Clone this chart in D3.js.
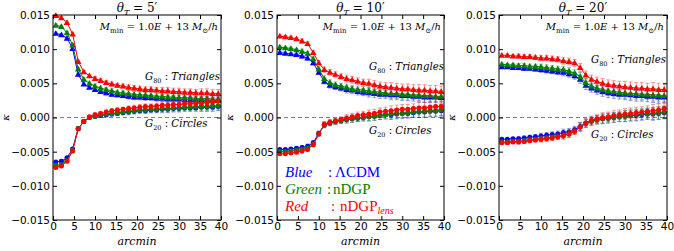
<!DOCTYPE html>
<html>
<head>
<meta charset="utf-8">
<script src="https://cdn.jsdelivr.net/npm/d3@7"></script>
<style>
  body { margin: 0; background: #fff; }
  svg { display: block; }
  .tick text { font-family: "DejaVu Sans", sans-serif; font-size: 10.5px; fill: #000; }
  .math { font-family: "DejaVu Serif", serif; }
  .legend { font-family: "Liberation Serif", serif; }
</style>
</head>
<body>
<div id="chart"></div>
<script>
// bin centres, arcmin
var arcmin = [0.67, 2, 3.33, 4.67, 6, 7.33, 8.67, 10, 11.33, 12.67, 14, 15.33, 16.67, 18, 19.33,
              20.67, 22, 23.33, 24.67, 26, 27.33, 28.67, 30, 31.33, 32.67, 34, 35.33, 36.67, 38, 39.33];

var xTicks = [0, 5, 10, 15, 20, 25, 30, 35, 40];
var yTicks = [-0.015, -0.010, -0.005, 0, 0.005, 0.010, 0.015];
var thetaLabels = ["5", "10", "20"];

// theta_T = 5'
var tri5_lcdm = [0.0123,0.0121,0.0116,0.0101,0.0063,0.0049,0.0044,0.0041,0.0038,0.0036,0.0034,0.0033,0.0032,0.0031,0.0030,0.0030,0.0029,0.0029,0.0028,0.0028,0.0027,0.0027,0.0027,0.0026,0.0026,0.0026,0.0025,0.0025,0.0025,0.0025];
var tri5_ndgp = [0.0135,0.0133,0.0124,0.0106,0.0071,0.0056,0.0050,0.0046,0.0043,0.0041,0.0039,0.0037,0.0036,0.0035,0.0034,0.0033,0.0033,0.0032,0.0031,0.0031,0.0030,0.0030,0.0029,0.0029,0.0029,0.0028,0.0028,0.0028,0.0027,0.0027];
var tri5_lens = [0.0149,0.0146,0.0139,0.0122,0.0082,0.0067,0.0061,0.0057,0.0054,0.0051,0.0049,0.0047,0.0046,0.0044,0.0043,0.0042,0.0041,0.0041,0.0040,0.0039,0.0039,0.0038,0.0038,0.0037,0.0037,0.0036,0.0036,0.0036,0.0035,0.0035];
var cir5_lcdm = [-0.0065,-0.0064,-0.0059,-0.0046,-0.0016,-0.0006,0.0000,0.0002,0.0003,0.0004,0.0005,0.0006,0.0007,0.0008,0.0009,0.0010,0.0010,0.0011,0.0011,0.0012,0.0012,0.0013,0.0013,0.0014,0.0014,0.0014,0.0015,0.0015,0.0015,0.0016];
var cir5_ndgp = [-0.0070,-0.0069,-0.0063,-0.0048,-0.0016,-0.0006,0.0000,0.0002,0.0004,0.0005,0.0006,0.0007,0.0008,0.0009,0.0010,0.0011,0.0011,0.0012,0.0012,0.0013,0.0013,0.0014,0.0014,0.0015,0.0015,0.0016,0.0016,0.0016,0.0017,0.0017];
var cir5_lens = [-0.0073,-0.0071,-0.0064,-0.0049,-0.0017,-0.0006,0.0001,0.0004,0.0006,0.0008,0.0010,0.0011,0.0012,0.0013,0.0014,0.0015,0.0016,0.0016,0.0017,0.0018,0.0018,0.0019,0.0019,0.0020,0.0020,0.0021,0.0021,0.0022,0.0023,0.0024];
var err5 = [0.0002,0.0002,0.0002,0.0002,0.0002,0.0002,0.0002,0.0003,0.0003,0.0003,0.0003,0.0003,0.0003,0.0004,0.0004,0.0004,0.0004,0.0004,0.0004,0.0005,0.0005,0.0005,0.0005,0.0005,0.0005,0.0005,0.0006,0.0006,0.0006,0.0006];

// theta_T = 10'
var tri10_lcdm = [0.0095,0.0094,0.0093,0.0092,0.0090,0.0087,0.0080,0.0066,0.0053,0.0047,0.0045,0.0043,0.0041,0.0040,0.0038,0.0037,0.0036,0.0035,0.0034,0.0034,0.0033,0.0033,0.0032,0.0032,0.0031,0.0031,0.0030,0.0030,0.0030,0.0029];
var tri10_ndgp = [0.0103,0.0102,0.0101,0.0099,0.0097,0.0094,0.0086,0.0071,0.0057,0.0051,0.0048,0.0046,0.0044,0.0042,0.0041,0.0040,0.0039,0.0038,0.0037,0.0036,0.0035,0.0035,0.0034,0.0034,0.0033,0.0033,0.0032,0.0032,0.0031,0.0031];
var tri10_lens = [0.0119,0.0118,0.0117,0.0115,0.0112,0.0108,0.0095,0.0080,0.0070,0.0066,0.0063,0.0060,0.0057,0.0055,0.0053,0.0051,0.0050,0.0048,0.0046,0.0045,0.0044,0.0043,0.0042,0.0042,0.0041,0.0040,0.0040,0.0039,0.0039,0.0038];
var cir10_lcdm = [-0.0047,-0.0047,-0.0046,-0.0045,-0.0044,-0.0042,-0.0037,-0.0023,-0.0011,-0.0008,-0.0006,-0.0004,-0.0003,-0.0002,-0.0001,0.0000,0.0001,0.0002,0.0003,0.0004,0.0004,0.0005,0.0006,0.0006,0.0007,0.0008,0.0008,0.0009,0.0009,0.0010];
var cir10_ndgp = [-0.0050,-0.0050,-0.0049,-0.0048,-0.0047,-0.0045,-0.0039,-0.0024,-0.0011,-0.0008,-0.0006,-0.0005,-0.0003,-0.0002,-0.0001,0.0000,0.0001,0.0002,0.0003,0.0004,0.0005,0.0006,0.0006,0.0007,0.0008,0.0008,0.0009,0.0010,0.0010,0.0011];
var cir10_lens = [-0.0053,-0.0053,-0.0052,-0.0051,-0.0049,-0.0047,-0.0040,-0.0024,-0.0010,-0.0007,-0.0005,-0.0003,-0.0001,0.0001,0.0003,0.0004,0.0005,0.0006,0.0008,0.0009,0.0010,0.0011,0.0012,0.0012,0.0013,0.0014,0.0014,0.0015,0.0016,0.0016];
var err10 = [0.0002,0.0002,0.0002,0.0002,0.0003,0.0003,0.0003,0.0003,0.0004,0.0004,0.0004,0.0004,0.0005,0.0005,0.0005,0.0005,0.0006,0.0006,0.0006,0.0006,0.0007,0.0007,0.0007,0.0007,0.0007,0.0008,0.0008,0.0008,0.0008,0.0008];

// theta_T = 20'
var tri20_lcdm = [0.0074,0.0074,0.0073,0.0073,0.0072,0.0072,0.0071,0.0070,0.0069,0.0068,0.0067,0.0066,0.0064,0.0061,0.0056,0.0047,0.0043,0.0040,0.0038,0.0036,0.0035,0.0034,0.0034,0.0033,0.0032,0.0032,0.0031,0.0031,0.0030,0.0030];
var tri20_ndgp = [0.0078,0.0077,0.0077,0.0076,0.0076,0.0075,0.0075,0.0074,0.0073,0.0072,0.0071,0.0070,0.0068,0.0065,0.0060,0.0051,0.0046,0.0043,0.0041,0.0039,0.0038,0.0037,0.0036,0.0035,0.0035,0.0034,0.0034,0.0033,0.0033,0.0032];
var tri20_lens = [0.0091,0.0091,0.0090,0.0090,0.0089,0.0089,0.0088,0.0087,0.0087,0.0086,0.0085,0.0083,0.0082,0.0080,0.0073,0.0062,0.0056,0.0053,0.0050,0.0048,0.0047,0.0046,0.0045,0.0044,0.0043,0.0043,0.0042,0.0042,0.0041,0.0041];
var cir20_lcdm = [-0.0032,-0.0032,-0.0031,-0.0031,-0.0030,-0.0029,-0.0028,-0.0027,-0.0026,-0.0025,-0.0024,-0.0022,-0.0021,-0.0018,-0.0013,-0.0008,-0.0005,-0.0003,-0.0002,-0.0001,0.0000,0.0001,0.0002,0.0003,0.0003,0.0004,0.0005,0.0005,0.0006,0.0007];
var cir20_ndgp = [-0.0036,-0.0036,-0.0035,-0.0035,-0.0034,-0.0033,-0.0032,-0.0031,-0.0030,-0.0029,-0.0028,-0.0026,-0.0024,-0.0020,-0.0014,-0.0009,-0.0006,-0.0004,-0.0002,-0.0001,0.0000,0.0001,0.0002,0.0003,0.0004,0.0005,0.0006,0.0006,0.0007,0.0008];
var cir20_lens = [-0.0037,-0.0037,-0.0036,-0.0036,-0.0035,-0.0034,-0.0033,-0.0032,-0.0031,-0.0030,-0.0028,-0.0027,-0.0024,-0.0020,-0.0014,-0.0008,-0.0004,-0.0002,0.0000,0.0001,0.0003,0.0004,0.0005,0.0006,0.0007,0.0008,0.0009,0.0010,0.0011,0.0013];
var err20 = [0.0002,0.0002,0.0002,0.0003,0.0003,0.0003,0.0003,0.0004,0.0004,0.0004,0.0004,0.0005,0.0005,0.0005,0.0006,0.0006,0.0006,0.0006,0.0007,0.0007,0.0007,0.0007,0.0008,0.0008,0.0008,0.0008,0.0008,0.0009,0.0009,0.0009];

var colors = ["#0000ff", "#008000", "#ff0000"];   // LCDM, nDGP, nDGP_lens

var panels = [
    { theta: thetaLabels[0], left: 53,  right: 221, err: err5,
      tri: [tri5_lcdm, tri5_ndgp, tri5_lens], cir: [cir5_lcdm, cir5_ndgp, cir5_lens], g80y: 80, g20y: 127 },
    { theta: thetaLabels[1], left: 277, right: 444, err: err10,
      tri: [tri10_lcdm, tri10_ndgp, tri10_lens], cir: [cir10_lcdm, cir10_ndgp, cir10_lens], g80y: 70, g20y: 134 },
    { theta: thetaLabels[2], left: 499, right: 667, err: err20,
      tri: [tri20_lcdm, tri20_ndgp, tri20_lens], cir: [cir20_lcdm, cir20_ndgp, cir20_lens], g80y: 63, g20y: 138 }
];

var W = 674, H = 251, axTop = 15, axBottom = 220;

var svg = d3.select("#chart").append("svg").attr("width", W).attr("height", H);

var y = d3.scaleLinear().domain([-0.015, 0.015]).range([axBottom, axTop]);
var triangle = d3.symbol().type(d3.symbolTriangle).size(19);

panels.forEach(function (p) {
    var x = d3.scaleLinear().domain([0, 40]).range([p.left, p.right]);
    var g = svg.append("g");

    // zero line
    g.append("line")
        .attr("x1", p.left).attr("x2", p.right)
        .attr("y1", y(0)).attr("y2", y(0))
        .attr("stroke", "#808080").attr("stroke-width", 1).attr("stroke-dasharray", "4,3");

    function series(vals, col, isTri) {
        var s = g.append("g");
        var pts = arcmin.map(function (a, i) { return { x: a, v: vals[i], e: p.err[i] }; });
        // error bars
        s.selectAll(null).data(pts).enter().append("line")
            .attr("x1", function (d) { return x(d.x); }).attr("x2", function (d) { return x(d.x); })
            .attr("y1", function (d) { return y(d.v - d.e); }).attr("y2", function (d) { return y(d.v + d.e); })
            .attr("stroke", col).attr("stroke-opacity", 0.4).attr("stroke-width", 1);
        [-1, 1].forEach(function (sgn) {
            s.selectAll(null).data(pts).enter().append("line")
                .attr("x1", function (d) { return x(d.x) - 2; }).attr("x2", function (d) { return x(d.x) + 2; })
                .attr("y1", function (d) { return y(d.v + sgn * d.e); }).attr("y2", function (d) { return y(d.v + sgn * d.e); })
                .attr("stroke", col).attr("stroke-opacity", 0.4).attr("stroke-width", 1);
        });
        s.append("path").datum(pts)
            .attr("d", d3.line().x(function (d) { return x(d.x); }).y(function (d) { return y(d.v); }))
            .attr("fill", "none").attr("stroke", col).attr("stroke-width", 1);
        if (isTri) {
            s.selectAll(null).data(pts).enter().append("path")
                .attr("d", triangle)
                .attr("transform", function (d) { return "translate(" + x(d.x) + "," + (y(d.v) + 0.5) + ")"; })
                .attr("fill", col);
        } else {
            s.selectAll(null).data(pts).enter().append("circle")
                .attr("cx", function (d) { return x(d.x); }).attr("cy", function (d) { return y(d.v); })
                .attr("r", 2.5).attr("fill", col);
        }
    }
    for (var k = 0; k < 3; k++) {
        series(p.cir[k], colors[k], false);
        series(p.tri[k], colors[k], true);
    }

    // axes, ticks pointing in on all four sides
    g.append("g").attr("transform", "translate(0," + axBottom + ")")
        .call(d3.axisBottom(x).tickValues(xTicks).tickSizeInner(-4).tickSizeOuter(0).tickPadding(3));
    g.append("g").attr("transform", "translate(0," + axTop + ")")
        .call(d3.axisTop(x).tickValues(xTicks).tickSizeInner(-4).tickSizeOuter(0).tickFormat(""));
    g.append("g").attr("transform", "translate(" + p.left + ",0)")
        .call(d3.axisLeft(y).tickValues(yTicks).tickSizeInner(-4).tickSizeOuter(0).tickPadding(3).tickFormat(d3.format(".3f")));
    g.append("g").attr("transform", "translate(" + p.right + ",0)")
        .call(d3.axisRight(y).tickValues(yTicks).tickSizeInner(-4).tickSizeOuter(0).tickFormat(""));
    g.selectAll(".domain").remove();
    g.selectAll(".tick line").attr("stroke", "#000");
    g.append("rect")
        .attr("x", p.left).attr("y", axTop).attr("width", p.right - p.left).attr("height", axBottom - axTop)
        .attr("fill", "none").attr("stroke", "#000").attr("stroke-width", 1);

    var cx = (p.left + p.right) / 2;

    // title
    var t = g.append("text").attr("class", "math").attr("x", cx).attr("y", 12)
        .attr("text-anchor", "middle").attr("font-size", 12);
    t.append("tspan").attr("font-style", "italic").text("θ");
    t.append("tspan").attr("font-style", "italic").attr("font-size", 8).attr("dy", 2.5).text("T");
    t.append("tspan").attr("dy", -2.5).text(" = " + p.theta + "′");

    // M_min
    var m = g.append("text").attr("class", "math").attr("x", p.right - 3).attr("y", 30)
        .attr("text-anchor", "end").attr("font-size", 10);
    m.append("tspan").attr("font-style", "italic").text("M");
    m.append("tspan").attr("font-size", 7).attr("dy", 2.5).text("min");
    m.append("tspan").attr("dy", -2.5).text(" = 1.0");
    m.append("tspan").attr("font-style", "italic").text("E");
    m.append("tspan").text(" + 13 ");
    m.append("tspan").attr("font-style", "italic").text("M");
    m.append("tspan").attr("font-size", 7).attr("dy", 2.5).text("⊙");
    m.append("tspan").attr("dy", -2.5).text("/");
    m.append("tspan").attr("font-style", "italic").text("h");

    function gLabel(num, word, yy) {
        var l = g.append("text").attr("class", "math").attr("x", p.left + 92).attr("y", yy)
            .attr("font-size", 10.2).attr("font-style", "italic");
        l.append("tspan").text("G");
        l.append("tspan").attr("font-size", 6.5).attr("font-style", "normal").attr("dy", 2.5).text(num);
        l.append("tspan").attr("dy", -2.5).attr("font-style", "normal").text(" : ");
        l.append("tspan").text(word);
    }
    gLabel("80", "Triangles", p.g80y);
    gLabel("20", "Circles", p.g20y);

    // x label
    g.append("text").attr("class", "math").attr("x", cx).attr("y", 245)
        .attr("text-anchor", "middle").attr("font-size", 11).attr("font-style", "italic").text("arcmin");

    // y label
    g.append("text").attr("class", "math")
        .attr("transform", "translate(" + (p.left - 44) + "," + y(0) + ") rotate(-90)")
        .attr("text-anchor", "middle").attr("font-size", 10).attr("font-style", "italic").text("κ");
});

// legend, middle panel
var leg = [
    { name: "Blue",  col: colors[0], colonX: 328, labX: 335, label: "ΛCDM", sub: "", yy: 177 },
    { name: "Green", col: colors[1], colonX: 327, labX: 333, label: "nDGP", sub: "", yy: 194 },
    { name: "Red",   col: colors[2], colonX: 331, labX: 340, label: "nDGP", sub: "lens", yy: 211 }
];
leg.forEach(function (d) {
    svg.append("text").attr("class", "legend").attr("x", 285).attr("y", d.yy)
        .attr("font-size", 15).attr("font-style", "italic").attr("fill", d.col).text(d.name);
    svg.append("text").attr("class", "legend").attr("x", d.colonX).attr("y", d.yy)
        .attr("font-size", 15).attr("fill", d.col).text(":");
    var l = svg.append("text").attr("class", "legend").attr("x", d.labX).attr("y", d.yy)
        .attr("font-size", 15).attr("fill", d.col);
    l.append("tspan").text(d.label);
    if (d.sub) l.append("tspan").attr("font-size", 10).attr("font-style", "italic").attr("dy", 3).text(d.sub);
});
</script>
</body>
</html>
